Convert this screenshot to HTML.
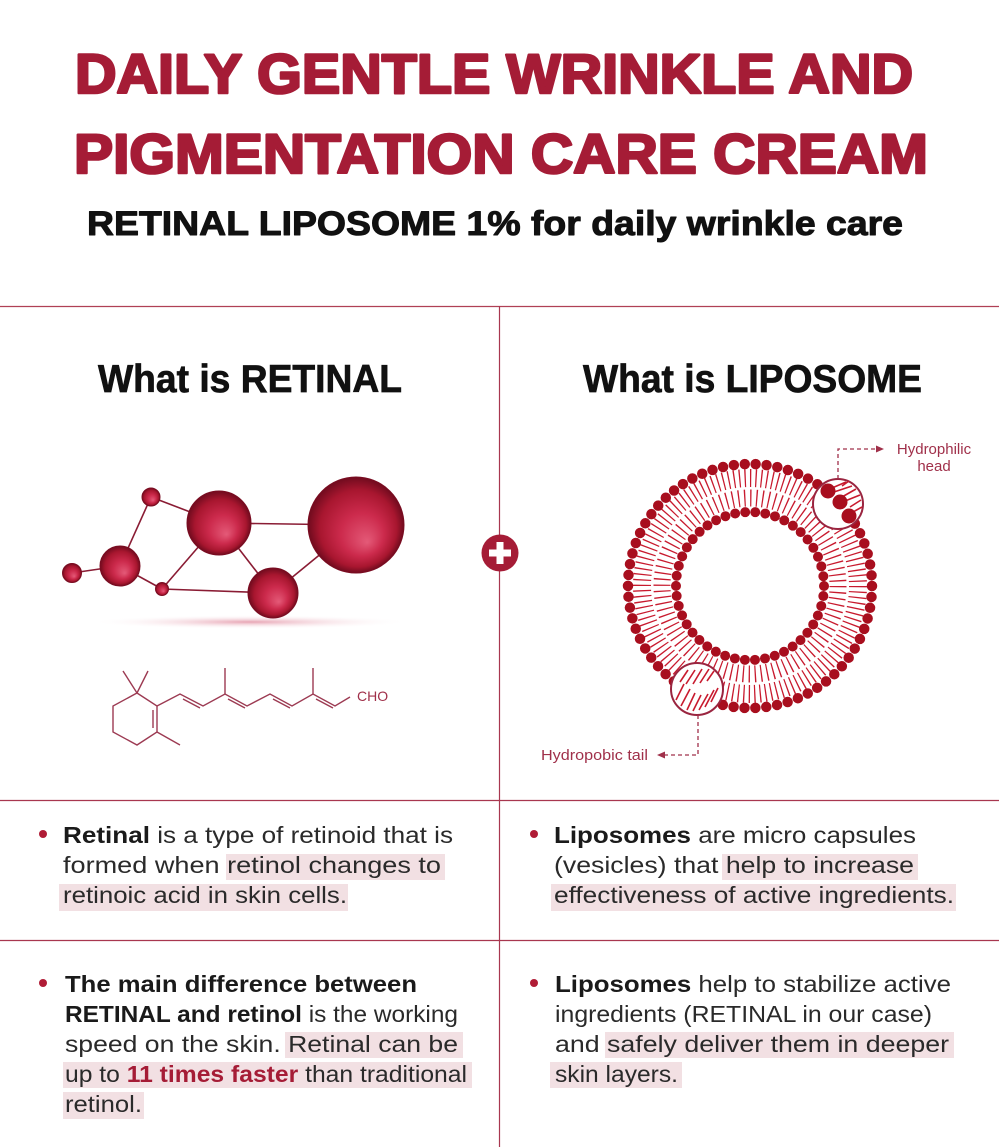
<!DOCTYPE html>
<html><head><meta charset="utf-8"><style>
html,body{margin:0;padding:0;background:#fff;}
svg{display:block;}
text{font-family:"Liberation Sans",sans-serif;}
</style></head><body>
<svg width="999" height="1147" viewBox="0 0 999 1147" xmlns="http://www.w3.org/2000/svg">
<defs>
<radialGradient id="sph" cx="50%" cy="50%" r="50%" fx="62%" fy="68%">
<stop offset="0%" stop-color="#e45a78"/>
<stop offset="45%" stop-color="#cc2a4c"/>
<stop offset="80%" stop-color="#a8162f"/>
<stop offset="100%" stop-color="#700b1e"/>
</radialGradient>
<radialGradient id="shd" cx="50%" cy="50%" r="50%">
<stop offset="0%" stop-color="#e59aab" stop-opacity="0.9"/>
<stop offset="100%" stop-color="#ffffff" stop-opacity="0"/>
</radialGradient>
</defs>
<rect width="999" height="1147" fill="#fff"/>

<!-- Titles -->
<text x="75" y="93" font-size="56" font-weight="bold" fill="#a51c36" stroke="#a51c36" stroke-width="2.6" stroke-linejoin="round" textLength="838" lengthAdjust="spacingAndGlyphs">DAILY GENTLE WRINKLE AND</text>
<text x="74" y="173" font-size="56" font-weight="bold" fill="#a51c36" stroke="#a51c36" stroke-width="2.6" stroke-linejoin="round" textLength="854" lengthAdjust="spacingAndGlyphs">PIGMENTATION CARE CREAM</text>
<text x="87" y="235" font-size="34" font-weight="bold" fill="#111" stroke="#111" stroke-width="1" stroke-linejoin="round" textLength="816" lengthAdjust="spacingAndGlyphs">RETINAL LIPOSOME 1% for daily wrinkle care</text>

<!-- Grid lines -->
<line x1="0" y1="306.5" x2="999" y2="306.5" stroke="#b04055" stroke-width="1.2"/>
<line x1="0" y1="800.5" x2="999" y2="800.5" stroke="#a8374f" stroke-width="1.2"/>
<line x1="0" y1="940.5" x2="999" y2="940.5" stroke="#a8374f" stroke-width="1.2"/>
<line x1="499.5" y1="306" x2="499.5" y2="1147" stroke="#a8374f" stroke-width="1.2"/>

<!-- Headings -->
<text x="98" y="392" font-size="39" font-weight="bold" fill="#111" stroke="#111" stroke-width="0.7" textLength="304" lengthAdjust="spacingAndGlyphs">What is RETINAL</text>
<text x="583" y="392" font-size="39" font-weight="bold" fill="#111" stroke="#111" stroke-width="0.7" textLength="339" lengthAdjust="spacingAndGlyphs">What is LIPOSOME</text>

<!-- Plus icon -->
<circle cx="500" cy="553" r="18.5" fill="#a51c36"/>
<rect x="489" y="549.5" width="22" height="7" fill="#fff"/>
<rect x="496.5" y="542" width="7" height="22" fill="#fff"/>

<!-- Molecule -->
<ellipse cx="250" cy="622" rx="160" ry="7" fill="url(#shd)"/>
<g stroke="#8a1c34" stroke-width="1.6">
<line x1="72" y1="573" x2="120" y2="566"/>
<line x1="120" y1="566" x2="151" y2="497"/>
<line x1="151" y1="497" x2="219" y2="523"/>
<line x1="120" y1="566" x2="162" y2="589"/>
<line x1="162" y1="589" x2="219" y2="523"/>
<line x1="162" y1="589" x2="273" y2="593"/>
<line x1="219" y1="523" x2="356" y2="525"/>
<line x1="219" y1="523" x2="273" y2="593"/>
<line x1="273" y1="593" x2="356" y2="525"/>
</g>
<g fill="url(#sph)" stroke="#7a0d22" stroke-width="1">
<circle cx="72" cy="573" r="9.5"/>
<circle cx="120" cy="566" r="20"/>
<circle cx="151" cy="497" r="9"/>
<circle cx="162" cy="589" r="6.5"/>
<circle cx="219" cy="523" r="32"/>
<circle cx="356" cy="525" r="48"/>
<circle cx="273" cy="593" r="25"/>
</g>

<!-- Retinal structure -->
<g stroke="#9c3a52" stroke-width="1.4" fill="none" stroke-linejoin="miter">
<path d="M137,693 L157,706 L157,732 L137,745 L113,732 L113,706 Z"/>
<path d="M137,693 L123,671 M137,693 L148,671 M157,732 L180,745 M153,710 L153,728"/>
<path d="M157,706 L180,694 L203,706 L225,694 L247,706 L270,694 L292,706 L313,694 L335,706 L350,697"/>
<path d="M225,694 V668 M313,694 V668"/>
<path d="M183,699 L200,708 M228,699 L245,708 M273,699 L290,708 M316,699 L333,708"/>
</g>
<text x="357" y="701" font-size="14" fill="#a0304a">CHO</text>

<!-- Liposome -->
<circle cx="750" cy="586" r="108" fill="none" stroke="#c81a2e" stroke-width="18" stroke-dasharray="1.3 4.17"/>
<circle cx="750" cy="586" r="88" fill="none" stroke="#c81a2e" stroke-width="17" stroke-dasharray="1.3 4.71"/>
<circle cx="750" cy="586" r="122" fill="none" stroke="#a80e1e" stroke-width="10.5" stroke-linecap="round" stroke-dasharray="0 10.95"/>
<circle cx="750" cy="586" r="74" fill="none" stroke="#a80e1e" stroke-width="10" stroke-linecap="round" stroke-dasharray="0 10.11"/>

<!-- Head magnifier -->
<circle cx="838" cy="504" r="25" fill="#fff" stroke="#9a2540" stroke-width="2"/>
<g stroke="#c81a2e" stroke-width="1.6">
<line x1="832" y1="488" x2="846" y2="482"/>
<line x1="834" y1="492" x2="852" y2="486"/>
<line x1="842" y1="497" x2="856" y2="489"/>
<line x1="845" y1="501" x2="860" y2="495"/>
<line x1="850" y1="507" x2="861" y2="500"/>
<line x1="853" y1="512" x2="862" y2="507"/>
<line x1="842" y1="486" x2="849" y2="481"/>
</g>
<g fill="#a80e1e">
<circle cx="828" cy="491" r="7.5"/>
<circle cx="840" cy="502" r="7.5"/>
<circle cx="849" cy="516" r="7.5"/>
</g>
<!-- Tail magnifier -->
<circle cx="697" cy="689" r="26" fill="#fff" stroke="#9a2540" stroke-width="2"/>
<g stroke="#c81a2e" stroke-width="1.6">
<line x1="676" y1="700" x2="684" y2="684"/>
<line x1="681" y1="706" x2="690" y2="689"/>
<line x1="687" y1="710" x2="695" y2="693"/>
<line x1="693" y1="711" x2="701" y2="695"/>
<line x1="699" y1="710" x2="708" y2="694"/>
<line x1="705" y1="707" x2="714" y2="690"/>
<line x1="711" y1="702" x2="718" y2="688"/>
<line x1="680" y1="682" x2="688" y2="670"/>
<line x1="686" y1="684" x2="695" y2="670"/>
<line x1="693" y1="684" x2="702" y2="669"/>
<line x1="700" y1="683" x2="709" y2="669"/>
<line x1="707" y1="681" x2="714" y2="671"/>
</g>

<!-- Dashed connectors -->
<g stroke="#a0304a" stroke-width="1.3" fill="none" stroke-dasharray="4 3">
<path d="M838 479 V449 H876"/>
<path d="M698 715 V755 H664"/>
</g>
<path d="M876 445.5 L884 449 L876 452.5 Z" fill="#a0304a"/>
<path d="M665 751.5 L657 755 L665 758.5 Z" fill="#a0304a"/>
<text x="934" y="454" font-size="15" fill="#a0304a" text-anchor="middle">Hydrophilic</text>
<text x="934" y="471" font-size="15" fill="#a0304a" text-anchor="middle">head</text>
<text x="541" y="760" font-size="15" fill="#a0304a" textLength="107" lengthAdjust="spacingAndGlyphs">Hydropobic tail</text>

<!-- Highlights -->
<g fill="#f2e0e3">
<rect x="226" y="854" width="219" height="26"/>
<rect x="59" y="884" width="289" height="27"/>
<rect x="285" y="1032" width="178" height="26"/>
<rect x="63" y="1062" width="409" height="26"/>
<rect x="63" y="1092" width="81" height="27"/>
<rect x="722" y="854" width="196" height="26"/>
<rect x="551" y="884" width="405" height="27"/>
<rect x="605" y="1032" width="349" height="26"/>
<rect x="550" y="1062" width="132" height="26"/>
</g>

<!-- Bullets -->
<g fill="#b01c36">
<circle cx="43" cy="834" r="4"/>
<circle cx="43" cy="983" r="4"/>
<circle cx="534" cy="834" r="4"/>
<circle cx="534" cy="983" r="4"/>
</g>

<!-- Body text -->
<g font-size="23" fill="#2a2a2a">
<text x="63" y="843" textLength="390" lengthAdjust="spacingAndGlyphs"><tspan font-weight="bold" fill="#1a1a1a">Retinal</tspan> is a type of retinoid that is</text>
<text x="63" y="873" textLength="378" lengthAdjust="spacingAndGlyphs">formed when retinol changes to</text>
<text x="63" y="903" textLength="284" lengthAdjust="spacingAndGlyphs">retinoic acid in skin cells.</text>

<text x="65" y="992" textLength="352" lengthAdjust="spacingAndGlyphs" font-weight="bold" fill="#1a1a1a">The main difference between</text>
<text x="65" y="1022" textLength="393" lengthAdjust="spacingAndGlyphs"><tspan font-weight="bold" fill="#1a1a1a">RETINAL and retinol</tspan> is the working</text>
<text x="65" y="1052" textLength="393" lengthAdjust="spacingAndGlyphs">speed  on the skin. Retinal can be</text>
<text x="65" y="1082" textLength="402" lengthAdjust="spacingAndGlyphs">up to <tspan font-weight="bold" fill="#a51c36">11 times faster</tspan> than traditional</text>
<text x="65" y="1112" textLength="77" lengthAdjust="spacingAndGlyphs">retinol.</text>

<text x="554" y="843" textLength="362" lengthAdjust="spacingAndGlyphs"><tspan font-weight="bold" fill="#1a1a1a">Liposomes</tspan> are micro capsules</text>
<text x="554" y="873" textLength="360" lengthAdjust="spacingAndGlyphs">(vesicles) that help to increase</text>
<text x="554" y="903" textLength="400" lengthAdjust="spacingAndGlyphs">effectiveness of active ingredients.</text>

<text x="555" y="992" textLength="396" lengthAdjust="spacingAndGlyphs"><tspan font-weight="bold" fill="#1a1a1a">Liposomes</tspan> help to stabilize active</text>
<text x="555" y="1022" textLength="377" lengthAdjust="spacingAndGlyphs">ingredients (RETINAL in our case)</text>
<text x="555" y="1052" textLength="394" lengthAdjust="spacingAndGlyphs">and safely deliver them in deeper</text>
<text x="555" y="1082" textLength="123" lengthAdjust="spacingAndGlyphs">skin layers.</text>
</g>
</svg>
</body></html>
